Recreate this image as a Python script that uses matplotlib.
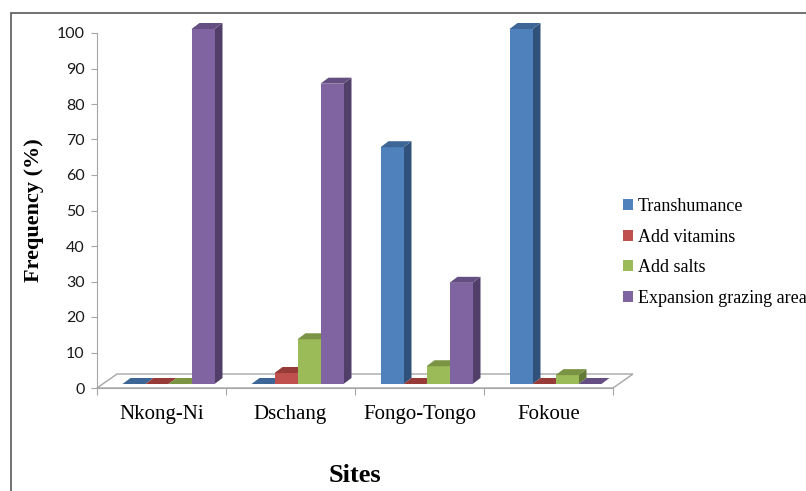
import matplotlib.pyplot as plt
from matplotlib.patches import Polygon, Patch, Rectangle

# frequency (%) of each strategy per site
sites = ['Nkong-Ni', 'Dschang', 'Fongo-Tongo', 'Fokoue']
strategies = ['Transhumance', 'Add vitamins', 'Add salts', 'Expansion grazing area']
transhumance = [0, 0, 66.7, 100]
add_vitamins = [0, 3.1, 0, 0]
add_salts = [0, 12.6, 5.0, 2.5]
expansion = [100, 84.6, 28.5, 0]
series = [transhumance, add_vitamins, add_salts, expansion]

# front / top / side shades (Excel-like palette)
front = ['#4F81BD', '#C0504D', '#9BBB59', '#8064A2']
top = ['#3D6696', '#973B39', '#7A9444', '#654F82']
side = ['#30527A', '#7E302E', '#637A37', '#513F6A']

W, H = 806, 491
fig = plt.figure(figsize=(W / 100, H / 100), dpi=100)

# plot area in pixels: x 97..613, y 388 (0) .. 33 (100)
x0, x1, y0, y1 = 97, 613, 388, 33
ax = fig.add_axes([x0 / W, 1 - y0 / H, (x1 - x0) / W, (y0 - y1) / H])
ax.set_xlim(0, 4)
ax.set_ylim(0, 100)
px = (x1 - x0) / 4      # pixels per category
py = (y0 - y1) / 100    # pixels per percent


def off(dx, dy):
    return dx / px, dy / py


# floor of the 3D plot
fdx, fdy = off(20, 14)
ax.add_patch(Polygon([(0, 0), (4, 0), (4 + fdx, fdy), (fdx, fdy)], closed=True,
                     facecolor='white', edgecolor='#A6A6A6', lw=1.0,
                     clip_on=False, zorder=1))

# bars: shifted into the floor depth, with a side and top face
bdx, bdy = off(7, 4)
sdx, sdy = off(8, 6)
bw = 23 / px
group = 4 * bw
for c in range(len(sites)):
    start = c + 0.5 - group / 2
    for s, vals in enumerate(series):
        v = vals[c]
        xl = start + s * bw + bdx
        xr = xl + bw
        yb = bdy
        yt = bdy + v
        if v > 0:
            ax.add_patch(Polygon([(xr, yb), (xr + sdx, yb + sdy), (xr + sdx, yt + sdy), (xr, yt)],
                                 closed=True, facecolor=side[s], edgecolor='none',
                                 clip_on=False, zorder=2 + c * 4 + s))
            ax.add_patch(Rectangle((xl, yb), bw, v, facecolor=front[s], edgecolor='none',
                                   clip_on=False, zorder=2 + c * 4 + s))
        ax.add_patch(Polygon([(xl, yt), (xr, yt), (xr + sdx, yt + sdy), (xl + sdx, yt + sdy)],
                             closed=True, facecolor=top[s], edgecolor='none',
                             clip_on=False, zorder=2 + c * 4 + s))

# axes styling
for sp in ['top', 'right']:
    ax.spines[sp].set_visible(False)
ax.spines['left'].set_color('#A6A6A6')
ax.spines['bottom'].set_color('#A6A6A6')
ax.set_yticks(range(0, 101, 10))
ax.tick_params(axis='y', length=4, color='#A6A6A6', labelsize=11.5, pad=5,
               labelcolor='#1a1a1a')
for lab in ax.get_yticklabels():
    lab.set_family('Lato')
ax.set_xticks([0, 1, 2, 3, 4])
ax.set_xticklabels([])
ax.tick_params(axis='x', which='major', length=5, color='#A6A6A6')
ax.set_xticks([0.5, 1.5, 2.5, 3.5], minor=True)
ax.set_xticklabels(sites, minor=True, family='Liberation Serif', fontsize=15)
ax.tick_params(axis='x', which='minor', length=0, pad=12)

ax.set_ylabel('Frequency (%)', family='Liberation Serif', fontsize=16,
              fontweight='bold', labelpad=9)
ax.set_xlabel('Sites', family='Liberation Serif', fontsize=19,
              fontweight='bold', labelpad=29)

handles = [Patch(facecolor=front[i], edgecolor='none') for i in range(4)]
fig.legend(handles, strategies, loc='upper left',
           bbox_to_anchor=(616 / W, 1 - 191 / H), frameon=False,
           prop={'family': 'Liberation Serif', 'size': 13},
           handlelength=0.55, handleheight=0.55, handletextpad=0.25,
           labelspacing=0.75, borderaxespad=0)

# outer chart border
fig.patches.append(Rectangle((11 / W, -0.1), 1, 1 - 13 / H + 0.1,
                             transform=fig.transFigure, fill=False,
                             edgecolor='#595959', lw=1.2))

fig.savefig('out.png', dpi=100)
